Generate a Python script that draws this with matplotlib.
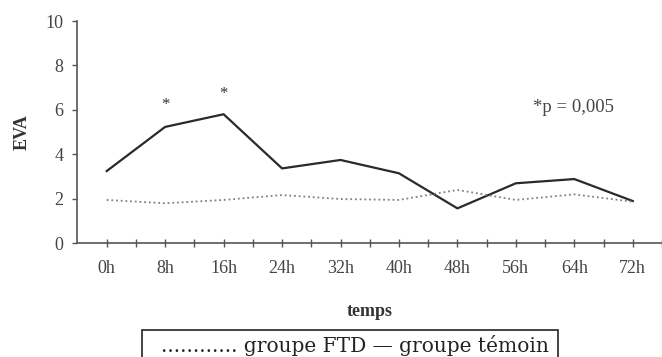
import numpy as np
import matplotlib
matplotlib.use("Agg")
import matplotlib.pyplot as plt
from matplotlib.patches import Rectangle

# data
heures = ["0h", "8h", "16h", "24h", "32h", "40h", "48h", "56h", "64h", "72h"]
groupe_temoin = [3.24, 5.23, 5.8, 3.36, 3.74, 3.14, 1.56, 2.69, 2.88, 1.89]
groupe_ftd = [1.94, 1.79, 1.94, 2.16, 1.98, 1.94, 2.39, 1.94, 2.19, 1.86]
etoiles_x = [1, 2]
etoiles_y = [6.36, 6.86]

plt.rcParams['font.family'] = ['Liberation Serif', 'DejaVu Serif']

fig = plt.figure(figsize=(6.62, 3.57), dpi=100)
ax = fig.add_axes([77 / 662, 1 - 243 / 357, 1 - 77 / 662, (243 - 21) / 357])

x = np.arange(len(heures))
ax.plot(x, groupe_temoin, color="#2a2a2a", lw=1.6)
ax.plot(x, groupe_ftd, color="#808080", lw=1.3, linestyle=(0, (1, 1.6)))
for xs, ys in zip(etoiles_x, etoiles_y):
    ax.text(xs, ys - 0.15, "*", ha="center", va="center", fontsize=12, color="#333333")
ax.text(7.29, 6.1, "*p = 0,005", ha="left", va="center", fontsize=13.5, color="#444444")

ax.set_xlim(-0.508, 9.41)
ax.set_ylim(0, 10)
ax.set_xticks(x)
ax.set_xticklabels(heures)
ax.set_xticks(x + 0.5, minor=True)
ax.set_yticks([0, 2, 4, 6, 8, 10])
ax.tick_params(axis="x", which="both", direction="inout", length=6, width=1, color="#555555",
               labelsize=13, labelcolor="#444444", pad=9)
ax.tick_params(axis="y", direction="out", length=3.6, width=1, color="#555555",
               labelsize=13, labelcolor="#444444", pad=6)
for s in ["top", "right"]:
    ax.spines[s].set_visible(False)
for s in ["left", "bottom"]:
    ax.spines[s].set_color("#555555")
    ax.spines[s].set_linewidth(1.2)

ax.set_ylabel("EVA", fontweight="bold", fontsize=13, color="#333333", labelpad=11)
ax.set_xlabel("temps", fontweight="bold", fontsize=13, color="#333333", labelpad=19)

# legend box at the bottom
fig.patches.append(Rectangle((142 / 662, -0.05), (558 - 142) / 662, 0.05 + 1 - 330 / 357,
                             transform=fig.transFigure, fill=False, edgecolor="#222222", lw=1.2))
fig.text(355 / 662, 1 - 345 / 357, "............ groupe FTD \u2014 groupe t\u00e9moin",
         ha="center", va="center", fontsize=14.5, color="#222222", family="DejaVu Serif")

fig.savefig("out.png", dpi=100)
